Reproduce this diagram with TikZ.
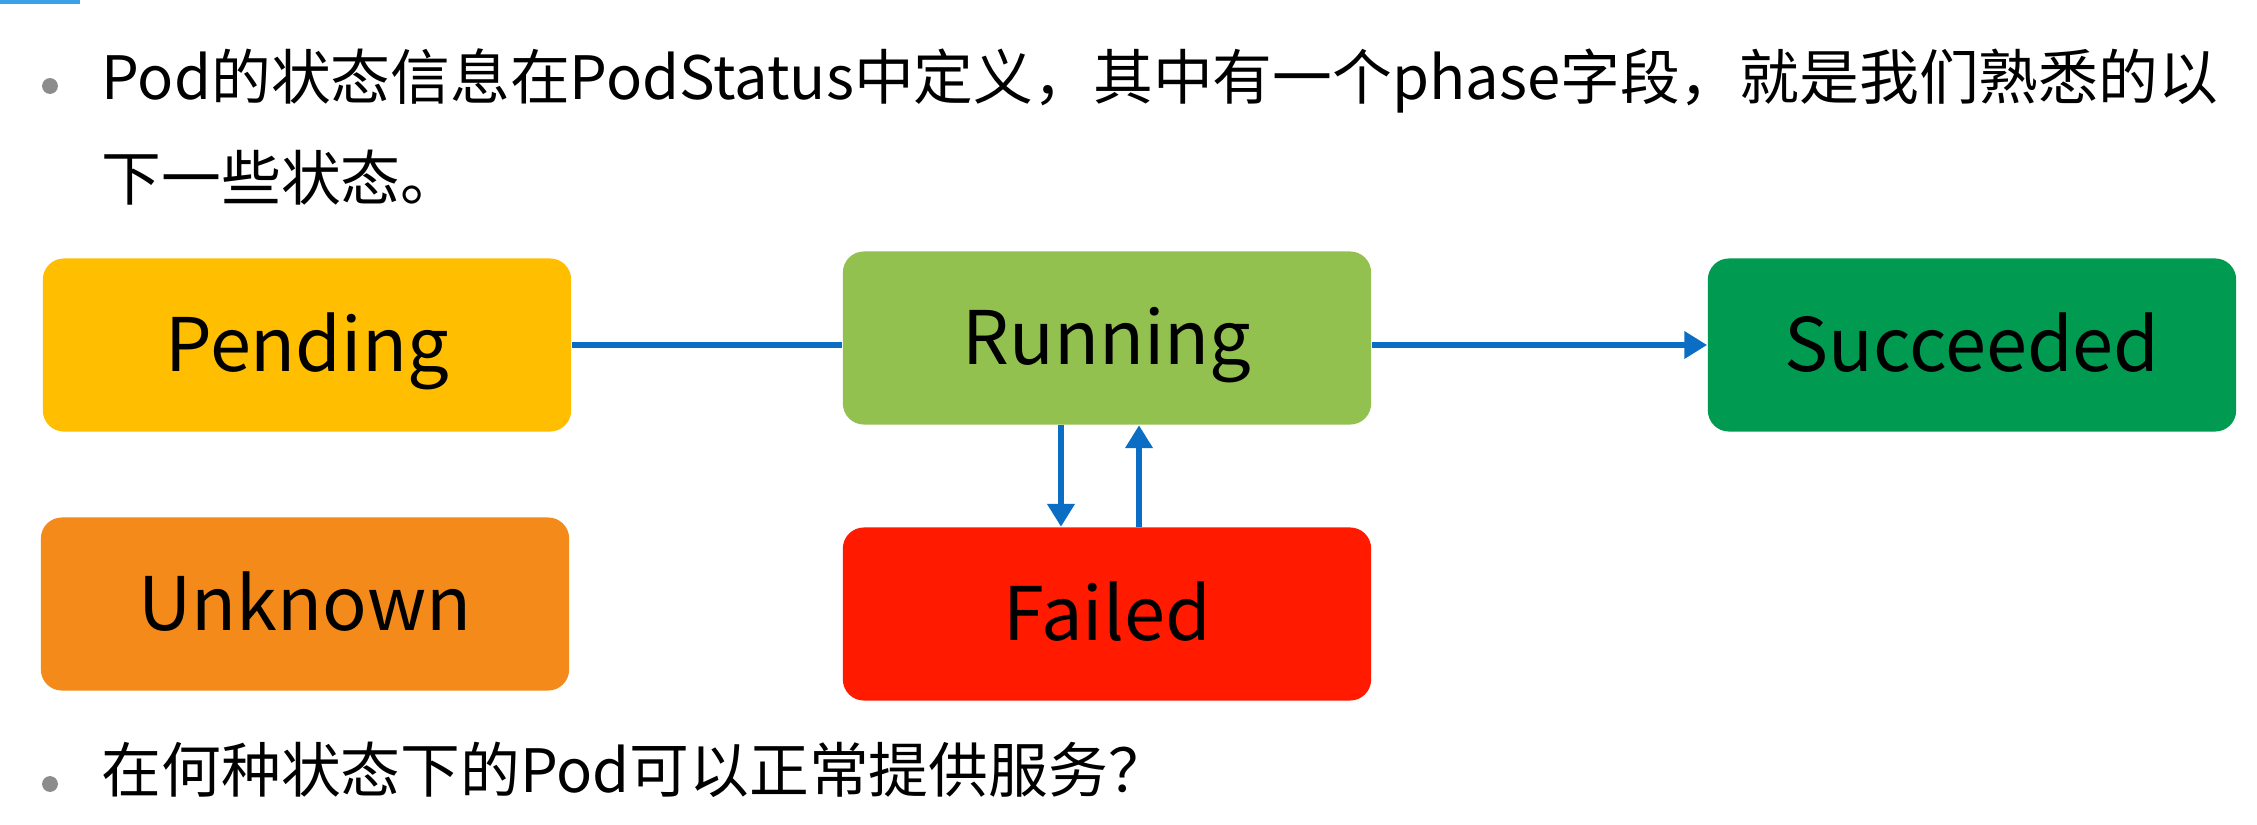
\documentclass[tikz,border=0pt]{standalone}
\usepackage{fontspec}
\setmainfont{Noto Sans CJK SC}
\usetikzlibrary{arrows.meta}
\definecolor{cPend}{HTML}{FFBE00}
\definecolor{cRun}{HTML}{92C150}
\definecolor{cSucc}{HTML}{009A50}
\definecolor{cUnk}{HTML}{F48A1A}
\definecolor{cFail}{HTML}{FF1A00}
\definecolor{cArrow}{HTML}{0B6DC4}
\definecolor{cBullet}{HTML}{8C8C8C}
\definecolor{cSliver}{HTML}{3AA0E8}
\begin{document}
\begin{tikzpicture}[x=0.01cm,y=-0.01cm,
  state/.style={rounded corners=6pt, minimum width=5.28cm, minimum height=1.73cm, inner sep=0pt, text height=15pt, text depth=0pt, font=\fontsize{21}{25}\selectfont, text=black},
  flow/.style={draw=cArrow, line width=1.8pt},
  tip/.style={-{Triangle[length=6.5pt,width=7.5pt]}},
  body/.style={anchor=base west, inner sep=0pt, font=\fontsize{17}{20}\selectfont, text=black},
  dot/.style={circle, fill=cBullet, minimum size=4.5pt, inner sep=0pt}]
\useasboundingbox[fill=white] (0,0) rectangle (2257,824);
\fill[cSliver] (0,0) rectangle (80,4);
% text
\node[dot] (b1) at (50,86) {};
\node[body] (t1) at (101,100) {Pod的状态信息在PodStatus中定义，其中有一个phase字段，就是我们熟悉的以};
\node[body] (t2) at (101,200) {下一些状态。};
\node[dot] (b2) at (50,784) {};
\node[body] (t3) at (101,792) {在何种状态下的Pod可以正常提供服务？};
% states
\node[state, fill=cPend] (pending) at (307,345) {Pending};
\node[state, fill=cRun] (running) at (1107,338) {Running};
\node[state, fill=cSucc] (succeeded) at (1972,345) {Succeeded};
\node[state, fill=cUnk] (unknown) at (305,604) {Unknown};
\node[state, fill=cFail] (failed) at (1107,614) {Failed};
% connectors
\draw[flow] (pending.east) -- (pending.east -| running.west);
\draw[flow, tip] (running.east |- succeeded.west) -- (succeeded.west);
\draw[flow, tip] ([xshift=-0.46cm]running.south) -- ([xshift=-0.46cm]running.south |- failed.north);
\draw[flow, tip] ([xshift=0.32cm]running.south |- failed.north) -- ([xshift=0.32cm]running.south);
\end{tikzpicture}
\end{document}
